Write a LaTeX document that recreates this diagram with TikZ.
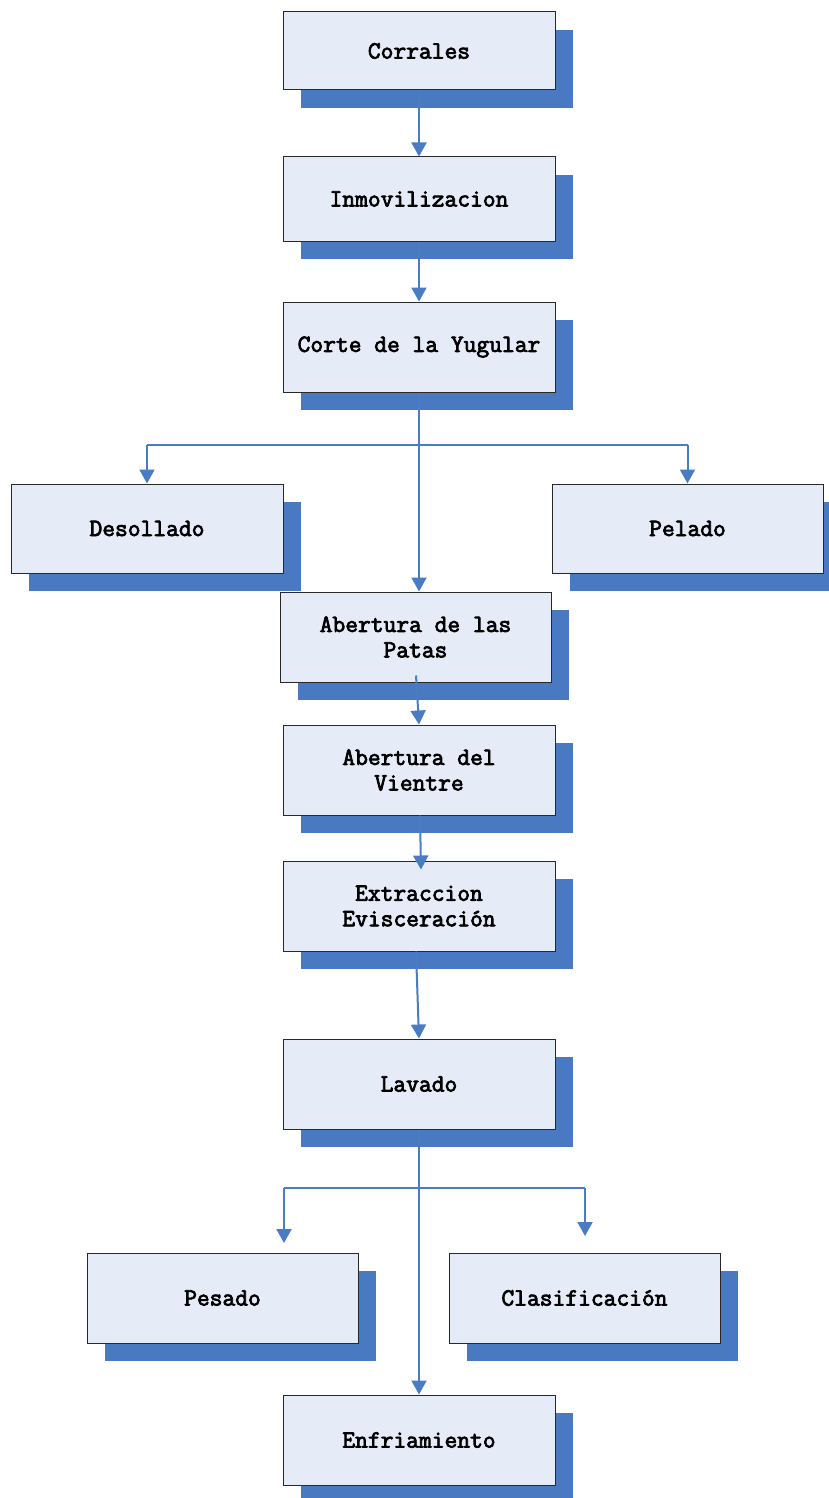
\documentclass[tikz,border=0pt]{standalone}
\usepackage{fontspec}
\setmonofont[AutoFakeBold=3]{Latin Modern Mono}
\usetikzlibrary{arrows.meta,shadows,calc}
\definecolor{boxfill}{RGB}{230,236,247}
\definecolor{shadowblue}{RGB}{72,121,193}
\definecolor{lineblue}{RGB}{74,124,196}
\definecolor{boxline}{RGB}{40,40,40}
\tikzset{
  stepbox/.style={draw=boxline, line width=1pt, fill=boxfill, inner sep=0pt,
    minimum width=272pt, minimum height=90pt, align=center,
    font=\ttfamily\bfseries\fontsize{24.8}{25.5}\selectfont,
    general shadow={fill=shadowblue, shadow xshift=18pt, shadow yshift=-18pt}},
  arr/.style={draw=lineblue, line width=2pt, -{Triangle[width=15pt,length=14pt]}},
  ln/.style={draw=lineblue, line width=2pt}
}
\begin{document}
\begin{tikzpicture}[x=1pt,y=-1pt]
\useasboundingbox (0,0) rectangle (829,1498);
\node[stepbox, minimum height=78pt] (c1) at (419,51) {Corrales};
\node[stepbox, minimum height=84pt] (c2) at (419,199) {Inmovilizacion};
\node[stepbox] (c3) at (419,347) {Corte de la Yugular};
\node[stepbox, minimum height=89pt] (c4) at (147,528.5) {Desollado};
\node[stepbox, minimum width=271pt, minimum height=89pt] (c5) at (687.5,528.5) {Pelado};
\node[stepbox, minimum width=271pt] (c6) at (415.5,637) {Abertura de las\\Patas};
\node[stepbox] (c7) at (419,770) {Abertura del\\Vientre};
\node[stepbox] (c8) at (419,906) {Extraccion\\Evisceración};
\node[stepbox] (c9) at (419,1084) {Lavado};
\node[stepbox, minimum width=271pt] (c10) at (222.5,1298) {Pesado};
\node[stepbox, minimum width=271pt] (c11) at (584.5,1298) {Clasificación};
\node[stepbox] (c12) at (419,1440) {Enfriamiento};
\coordinate (j1) at (419,445);
\coordinate (j2) at (419,1188);
\coordinate (pL) at (284,1188);
\coordinate (pLe) at (284,1243);
\coordinate (pR) at (585,1188);
\coordinate (pRe) at (585,1236);
\draw[arr] (c1.south) -- (c2.north);
\draw[arr] (c2.south) -- (c3.north);
\draw[arr] (c3.south) -- (c3.south |- c6.north);
\draw[ln] (c4.north |- j1) -- (c5.north |- j1);
\draw[arr] (c4.north |- j1) -- (c4.north);
\draw[arr] (c5.north |- j1) -- (c5.north);
\draw[arr] ($(c6.south)+(0.5,-7)$) -- (c7.north);
\draw[arr] ($(c7.south)+(1,0)$) -- ($(c8.north)+(2,9)$);
\draw[arr] ($(c8.south)+(-3,0)$) -- (c9.north);
\draw[arr] (c9.south) -- (c12.north);
\draw[ln] (pL) -- (pR);
\draw[arr] (pL) -- (pLe);
\draw[arr] (pR) -- (pRe);
\end{tikzpicture}
\end{document}
